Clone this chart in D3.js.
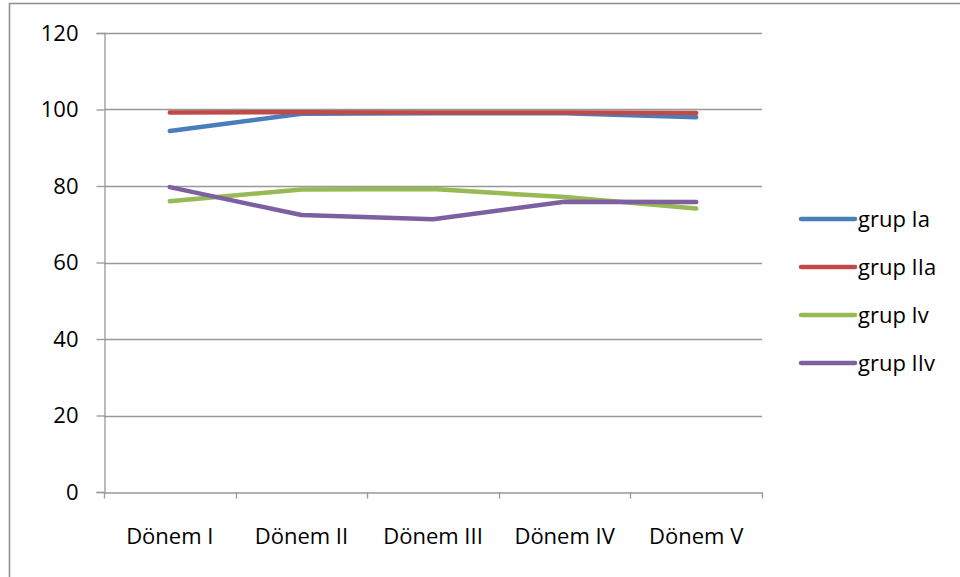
<!DOCTYPE html>
<html>
<head>
<meta charset="utf-8">
<script src="https://cdn.jsdelivr.net/npm/d3@7"></script>
<style>
  html, body { margin: 0; padding: 0; background: #fff; }
  svg { display: block; font-family: "Open Sans", "Noto Sans", sans-serif; }
</style>
</head>
<body>
<svg id="chart" width="960" height="577"></svg>
<script>
// Periods on the x axis
const categories = ["Dönem I", "Dönem II", "Dönem III", "Dönem IV", "Dönem V"];
// Series names and colours
const seriesNames = ["grup Ia", "grup IIa", "grup Iv", "grup IIv"];
const seriesColors = ["#4A7EBB", "#BE4B48", "#98B954", "#7D60A0"];
// Values per series
const grupIa  = [94.4, 98.9, 99.0, 99.0, 98.0];
const grupIIa = [99.2, 99.3, 99.2, 99.2, 99.1];
const grupIv  = [76.0, 79.1, 79.2, 77.1, 74.1];
const grupIIv = [79.7, 72.4, 71.3, 75.9, 75.8];
// Value axis ticks
const yTicks = [0, 20, 40, 60, 80, 100, 120];

const seriesValues = [grupIa, grupIIa, grupIv, grupIIv];

const svg = d3.select("#chart");
const W = 960, H = 577;
const plot = { left: 104, right: 762, top: 33, bottom: 492 };
const FONT = "'Open Sans', 'Noto Sans', sans-serif";

// Frame around the chart area
svg.append("path")
  .attr("d", `M9.5,${H} V3.5 H${W}`)
  .attr("fill", "none")
  .attr("stroke", "#8c8c8c")
  .attr("stroke-width", 1.5);

const x = d3.scaleBand().domain(categories).range([plot.left, plot.right]).padding(0);
const y = d3.scaleLinear().domain([0, 120]).range([plot.bottom, plot.top]);

// Horizontal gridlines
svg.append("g")
  .selectAll("line")
  .data(yTicks.filter(t => t > 0))
  .join("line")
  .attr("x1", plot.left).attr("x2", plot.right)
  .attr("y1", d => Math.round(y(d)) + 0.5).attr("y2", d => Math.round(y(d)) + 0.5)
  .attr("stroke", "#989898").attr("stroke-width", 1.3);

// Value axis
const yAxis = svg.append("g")
  .attr("transform", `translate(${plot.left + 0.5},0)`)
  .call(d3.axisLeft(y).tickValues(yTicks).tickSize(8).tickPadding(18).tickFormat(d3.format("d")));
yAxis.select(".domain").attr("stroke", "#989898").attr("stroke-width", 1.3);
yAxis.selectAll(".tick line").attr("stroke", "#989898").attr("stroke-width", 1.3);
yAxis.selectAll(".tick text")
  .attr("font-size", 22).attr("fill", "#000").attr("font-family", FONT);

// Category axis
const xAxis = svg.append("g")
  .attr("transform", `translate(0,${Math.round(y(0)) + 0.5})`)
  .call(d3.axisBottom(x).tickSize(0).tickPadding(36));
xAxis.select(".domain").attr("stroke", "#989898").attr("stroke-width", 1.3);
xAxis.selectAll(".tick text")
  .attr("font-size", 22).attr("fill", "#000").attr("font-family", FONT);
// Tick marks between categories
const boundaries = categories.map(c => x(c)).concat([x(categories[categories.length - 1]) + x.bandwidth()]);
xAxis.append("g")
  .selectAll("line")
  .data(boundaries)
  .join("line")
  .attr("x1", d => Math.round(d) + 0.5).attr("x2", d => Math.round(d) + 0.5)
  .attr("y1", 0).attr("y2", 6)
  .attr("stroke", "#989898").attr("stroke-width", 1.3);

// Series lines
const line = d3.line()
  .x((d, i) => x(categories[i]) + x.bandwidth() / 2)
  .y(d => y(d));

svg.append("g")
  .selectAll("path")
  .data(seriesValues)
  .join("path")
  .attr("d", d => line(d))
  .attr("fill", "none")
  .attr("stroke", (d, i) => seriesColors[i])
  .attr("stroke-width", 4.5)
  .attr("stroke-linecap", "round")
  .attr("stroke-linejoin", "round");

// Legend
const legend = svg.append("g");
const rowY = d3.scaleLinear().domain([0, 1]).range([219, 267]);
const items = legend.selectAll("g")
  .data(seriesNames)
  .join("g")
  .attr("transform", (d, i) => `translate(0,${rowY(i)})`);
items.append("line")
  .attr("x1", 801).attr("x2", 855)
  .attr("stroke", (d, i) => seriesColors[i])
  .attr("stroke-width", 4.5)
  .attr("stroke-linecap", "round");
items.append("text")
  .attr("x", 858)
  .attr("dy", "0.36em")
  .attr("font-size", 22)
  .attr("fill", "#000")
  .text(d => d);
</script>
</body>
</html>
